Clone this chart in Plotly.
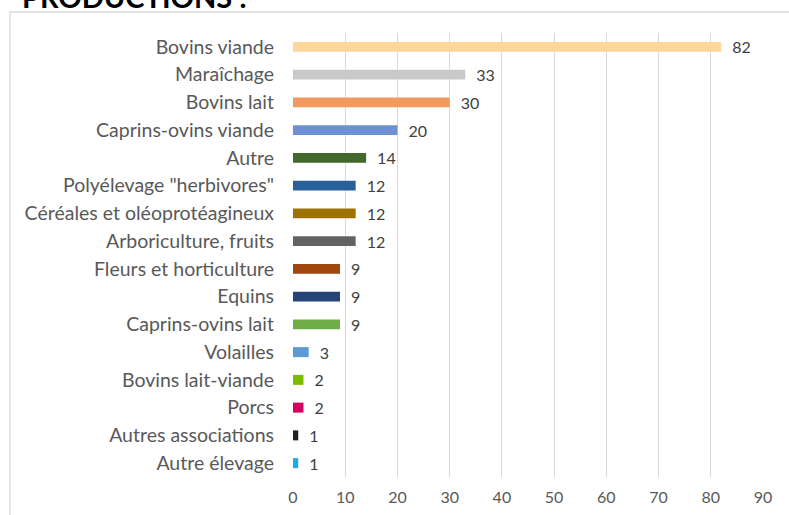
import plotly.graph_objects as go

categories = ["Bovins viande", "Maraîchage", "Bovins lait", "Caprins-ovins viande", "Autre",
              "Polyélevage \"herbivores\"", "Céréales et oléoprotéagineux", "Arboriculture, fruits",
              "Fleurs et horticulture", "Equins", "Caprins-ovins lait", "Volailles",
              "Bovins lait-viande", "Porcs", "Autres associations", "Autre élevage"]
values = [82, 33, 30, 20, 14, 12, 12, 12, 9, 9, 9, 3, 2, 2, 1, 1]
colors = ["#FFD699", "#C9C9C9", "#F29A5C", "#6E91D6", "#43682B", "#2A6099", "#9C7300", "#636363",
          "#A0470F", "#264478", "#70AD47", "#5B9BD5", "#7CBB00", "#D5005F", "#222222", "#1CADE4"]
x_ticks = [0, 10, 20, 30, 40, 50, 60, 70, 80, 90]
title_text = "PRODUCTIONS :"

FONT = "Lato, Carlito, Calibri, sans-serif"

fig = go.Figure(go.Bar(
    y=categories, x=values, orientation="h",
    marker=dict(color=colors, line=dict(width=0)),
    width=0.36,
    text=[f"\u2002{v}" for v in values], textposition="outside",
    constraintext="none",
    textfont=dict(family=FONT, size=16, color="#404040"),
    cliponaxis=False,
))

L, R, T, B = 293, 26, 33, 38
W, H = 789, 515
pw = W - L - R
ph = H - T - B

fig.update_layout(
    width=W, height=H,
    margin=dict(l=L, r=R, t=T, b=B, pad=0, autoexpand=False),
    paper_bgcolor="white", plot_bgcolor="white",
    showlegend=False,
    xaxis=dict(range=[0, 90], tickvals=x_ticks, showgrid=True, gridcolor="#D9D9D9", gridwidth=1.3,
               zeroline=False, showline=False, ticks="", automargin=False,
               tickfont=dict(family=FONT, size=16, color="#595959")),
    yaxis=dict(categoryorder="array", categoryarray=categories, autorange="reversed",
               showgrid=False, zeroline=False, showline=False, ticks="", automargin=False,
               tickfont=dict(family=FONT, size=19.5, color="#595959")),
    bargap=0.64,
)
fig.update_yaxes(ticklabelstandoff=18)
fig.update_xaxes(ticklabelstandoff=9)

# chart frame
fig.add_shape(type="rect", xref="paper", yref="paper",
              x0=(10 - L) / pw, x1=(W + 20 - L) / pw,
              y0=(H - B - (H + 20)) / ph, y1=(H - B - 12) / ph,
              line=dict(color="#D9D9D9", width=1.3), fillcolor="rgba(0,0,0,0)", layer="below")

fig.add_annotation(text=f"<b>{title_text}</b>", xref="paper", yref="paper",
                   x=(20 - L) / pw, y=(H - B - 8) / ph, xanchor="left", yanchor="bottom",
                   yshift=-8, showarrow=False,
                   font=dict(family=FONT, size=29, color="#000000"))

fig.write_html("out.html", config={"displayModeBar": False},
               post_script="document.body.style.margin='0';document.body.style.padding='0';")
